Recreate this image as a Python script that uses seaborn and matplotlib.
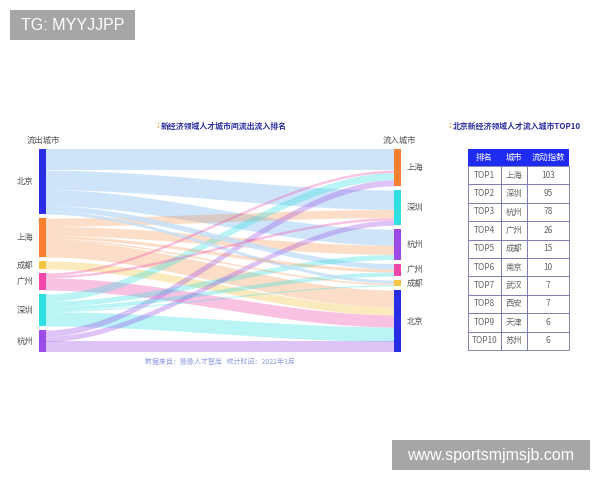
import numpy as np
import matplotlib
matplotlib.use("Agg")
import matplotlib.pyplot as plt
import seaborn as sns
from matplotlib.patches import Rectangle

sns.set_theme(style="white")
plt.rcParams['font.family'] = ['Noto Sans CJK SC', 'DejaVu Sans']

# ---------------- data ----------------
left_nodes = ["北京", "上海", "成都", "广州", "深圳", "杭州"]
right_nodes = ["上海", "深圳", "杭州", "广州", "成都", "北京"]

link_src = ["北京", "北京", "北京", "北京", "北京",
            "上海", "上海", "上海", "上海", "上海",
            "成都",
            "广州", "广州", "广州",
            "深圳", "深圳", "深圳", "深圳", "深圳",
            "杭州", "杭州", "杭州"]
link_tgt = ["上海", "深圳", "杭州", "广州", "成都",
            "深圳", "杭州", "广州", "成都", "北京",
            "北京",
            "上海", "深圳", "北京",
            "上海", "杭州", "广州", "成都", "北京",
            "上海", "深圳", "北京"]
link_val = [103, 95, 78, 26, 15,
            40, 45, 15, 8, 82,
            39,
            12, 12, 59,
            35, 25, 20, 6, 70,
            30, 25, 52]

top_rank = ["TOP1", "TOP2", "TOP3", "TOP4", "TOP5", "TOP6", "TOP7", "TOP8", "TOP9", "TOP10"]
top_city = ["上海", "深圳", "杭州", "广州", "成都", "南京", "武汉", "西安", "天津", "苏州"]
top_index = [103, 95, 78, 26, 15, 10, 7, 7, 6, 6]
table_header = ["排名", "城市", "流动指数"]

# ---------------- style ----------------
node_color = {"北京": "#2a2de6", "上海": "#f7802e", "成都": "#f6c445",
              "广州": "#f046a9", "深圳": "#2fdfe2", "杭州": "#9c4be6"}
link_color = {"北京": ("#c6e1f8", 0.85), "上海": ("#f7802e", 0.26), "成都": ("#f6c445", 0.35),
              "广州": ("#f046a9", 0.33), "深圳": ("#2fdfe2", 0.33), "杭州": ("#9c4be6", 0.33)}

fig = plt.figure(figsize=(6, 4.8), dpi=100)
ax = fig.add_axes([0, 0, 1, 1])
ax.set_xlim(0, 600)
ax.set_ylim(480, 0)
ax.axis("off")

# ---------------- sankey layout ----------------
top_y, bot_y = 149.0, 352.0
gap = 4.0
x_left, x_right, node_w = 38.5, 394.0, 7.0

def totals(nodes, keys):
    return {n: sum(v for k, v in zip(keys, link_val) if k == n) for n in nodes}

lt = totals(left_nodes, link_src)
rt = totals(right_nodes, link_tgt)
scale = min((bot_y - top_y - gap * (len(left_nodes) - 1)) / sum(lt.values()),
            (bot_y - top_y - gap * (len(right_nodes) - 1)) / sum(rt.values()))

def layout(nodes, tot):
    pos, y = {}, top_y
    extra = (bot_y - top_y - scale * sum(tot.values())) / (len(nodes) - 1)
    for n in nodes:
        pos[n] = y
        y += tot[n] * scale + extra
    return pos

lpos = layout(left_nodes, lt)
rpos = layout(right_nodes, rt)

src_off = dict(lpos)
tgt_off = dict(rpos)
links = list(zip(link_src, link_tgt, link_val))
seg_src, seg_tgt = {}, {}
for s in left_nodes:
    for i, (a, b, v) in sorted([(i, l) for i, l in enumerate(links) if l[0] == s],
                               key=lambda p: right_nodes.index(p[1][1])):
        seg_src[i] = src_off[s]
        src_off[s] += v * scale
for t in right_nodes:
    for i, (a, b, v) in sorted([(i, l) for i, l in enumerate(links) if l[1] == t],
                               key=lambda p: left_nodes.index(p[1][0])):
        seg_tgt[i] = tgt_off[t]
        tgt_off[t] += v * scale

x0, x1 = x_left + node_w, x_right
tt = np.linspace(0, 1, 80)
xs = x0 + (x1 - x0) * tt
ss = 3 * tt ** 2 - 2 * tt ** 3
order = sorted(range(len(links)), key=lambda i: -links[i][2])
for i in order:
    a, b, v = links[i]
    h = v * scale
    top = seg_src[i] + (seg_tgt[i] - seg_src[i]) * ss
    c, al = link_color[a]
    ax.fill_between(xs, top, top + h, color=c, alpha=al, linewidth=0, zorder=2)

lab_kw = dict(fontsize=6, color="#555555")
for n in left_nodes:
    h = lt[n] * scale
    ax.add_patch(Rectangle((x_left, lpos[n]), node_w, h, color=node_color[n], zorder=3, lw=0))
    ax.text(x_left - 5, lpos[n] + h / 2, n, ha="right", va="center", **lab_kw)
for n in right_nodes:
    h = rt[n] * scale
    ax.add_patch(Rectangle((x_right, rpos[n]), node_w, h, color=node_color[n], zorder=3, lw=0))
    ax.text(x_right + node_w + 6, rpos[n] + h / 2, n, ha="left", va="center", **lab_kw)

ax.text(27, 140, "流出城市", ha="left", va="center", **lab_kw)
ax.text(383, 140, "流入城市", ha="left", va="center", **lab_kw)

title_kw = dict(fontsize=5.7, color="#2b2e9c", fontweight="bold", va="center")
ax.text(156, 126, ":", color="#f08a1c", fontsize=6, fontweight="bold", va="center", ha="left")
ax.text(161, 126, "新经济领域人才城市间流出流入排名", ha="left", **title_kw)
ax.text(448, 126, ":", color="#f08a1c", fontsize=6, fontweight="bold", va="center", ha="left")
ax.text(453, 126, "北京新经济领域人才流入城市TOP10", ha="left", **title_kw)

ax.text(145, 362, "数据来自：脉脉人才智库   统计时间：2022年3月", ha="left", va="center",
        fontsize=5.0, color="#8e9ae0")

# ---------------- table ----------------
col_x = [468, 501, 527, 569]
ty0, hh = 149, 17
rh = (350 - ty0 - hh) / len(top_rank)
ax.add_patch(Rectangle((col_x[0], ty0), col_x[-1] - col_x[0], hh, color="#1f2cf0", lw=0, zorder=3))
for j, t in enumerate(table_header):
    ax.text((col_x[j] + col_x[j + 1]) / 2, ty0 + hh / 2, t, ha="center", va="center",
            fontsize=6, color="white", zorder=4)
for r in range(len(top_rank)):
    y = ty0 + hh + r * rh
    vals = [top_rank[r], top_city[r], str(top_index[r])]
    for j in range(3):
        ax.add_patch(Rectangle((col_x[j], y), col_x[j + 1] - col_x[j], rh, facecolor="white",
                               edgecolor="#6f73a8", lw=0.6, zorder=3))
        ax.text((col_x[j] + col_x[j + 1]) / 2, y + rh / 2, vals[j], ha="center", va="center",
                fontsize=6, color="#666666", zorder=4)

# ---------------- watermarks ----------------
ax.add_patch(Rectangle((10, 10), 125, 30, color="#a6a6a6", lw=0, zorder=5))
ax.text(72.5, 25.5, "TG: MYYJJPP", ha="center", va="center", color="white",
        fontsize=11.5, family="Liberation Sans", zorder=6)
ax.add_patch(Rectangle((392, 440), 198, 30, color="#a6a6a6", lw=0, zorder=5))
ax.text(491, 455.5, "www.sportsmjmsjb.com", ha="center", va="center", color="white",
        fontsize=11.5, family="Liberation Sans", zorder=6)

fig.savefig("out.png", dpi=100, facecolor="white")
